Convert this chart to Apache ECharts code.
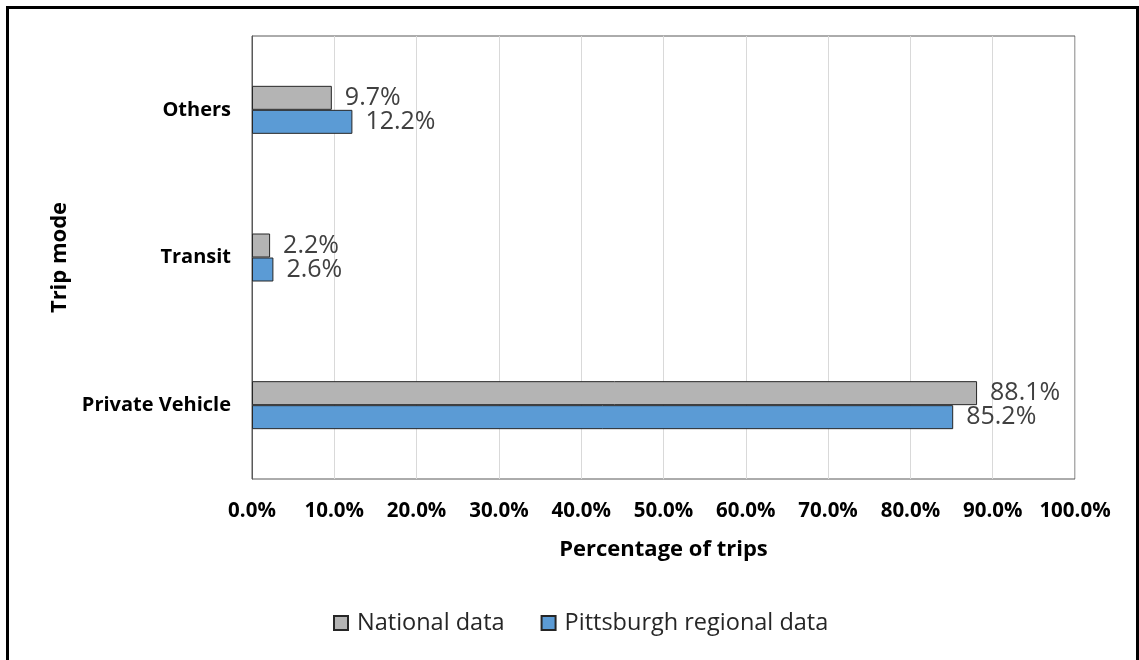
<!DOCTYPE html>
<html>
<head>
<meta charset="utf-8">
<style>
  html, body { margin: 0; padding: 0; background: #fff; }
  #chart { width: 1139px; height: 660px; }
</style>
<script src="https://cdn.jsdelivr.net/npm/echarts@6/dist/echarts.min.js"></script>
</head>
<body>
<div id="chart"></div>
<script>
// Trip modes, bottom to top on the category axis
const tripModes = ['Private Vehicle', 'Transit', 'Others'];
const nationalData = [88.1, 2.2, 9.7];
const pittsburghData = [85.2, 2.6, 12.2];
const seriesNames = ['National data', 'Pittsburgh regional data'];

const FONT = '"Open Sans", "Noto Sans", sans-serif';
const pct = v => v.toFixed(1) + '%';

const chart = echarts.init(document.getElementById('chart'), null, { renderer: 'canvas' });

const labelStyle = {
  show: true,
  position: 'right',
  distance: 13,
  formatter: p => pct(p.value),
  fontFamily: FONT,
  fontSize: 25,
  color: '#404040'
};

chart.setOption({
  animation: false,
  backgroundColor: '#fff',
  textStyle: { fontFamily: FONT },
  graphic: [{
    type: 'rect',
    shape: { x: 7.5, y: 7.5, width: 1130, height: 660 },
    style: { fill: 'none', stroke: '#000', lineWidth: 3 },
    silent: true,
    z: 100
  }],
  grid: {
    left: 252, right: 64, top: 36, bottom: 181,
    show: true,
    borderColor: '#595959',
    borderWidth: 1
  },
  legend: {
    bottom: 25,
    left: 333,
    padding: 0,
    itemWidth: 14,
    itemHeight: 14,
    itemGap: 36,
    icon: 'rect',
    textStyle: { fontFamily: FONT, fontSize: 23.5, color: '#262626', padding: [0, 0, 0, 4] },
    data: seriesNames
  },
  xAxis: {
    type: 'value',
    min: 0,
    max: 100,
    interval: 10,
    name: 'Percentage of trips',
    nameLocation: 'middle',
    nameGap: 60,
    nameTextStyle: { fontFamily: FONT, fontSize: 22, fontWeight: 'bold', color: '#000' },
    axisLine: { show: false },
    axisTick: { show: false },
    axisLabel: {
      formatter: v => pct(v),
      fontFamily: FONT, fontSize: 20.5, fontWeight: 'bold', color: '#000',
      margin: 22
    },
    splitLine: { show: true, lineStyle: { color: '#d9d9d9', width: 1 } }
  },
  yAxis: {
    type: 'category',
    data: tripModes,
    name: 'Trip mode',
    nameLocation: 'middle',
    nameGap: 180,
    nameRotate: 90,
    nameTextStyle: { fontFamily: FONT, fontSize: 22, fontWeight: 'bold', color: '#000' },
    axisLine: { show: true, lineStyle: { color: '#595959' } },
    axisTick: { show: false },
    axisLabel: {
      fontFamily: FONT, fontSize: 20, fontWeight: 'bold', color: '#000',
      margin: 21
    }
  },
  series: [
    {
      name: seriesNames[0],
      type: 'bar',
      data: nationalData,
      barWidth: 24,
      barGap: '0%',
      itemStyle: { color: '#b4b4b4', borderColor: '#262626', borderWidth: 1 },
      label: labelStyle
    },
    {
      name: seriesNames[1],
      type: 'bar',
      data: pittsburghData,
      barWidth: 24,
      barGap: '0%',
      itemStyle: { color: '#5b9bd5', borderColor: '#262626', borderWidth: 1 },
      label: labelStyle
    }
  ]
});
</script>
</body>
</html>
